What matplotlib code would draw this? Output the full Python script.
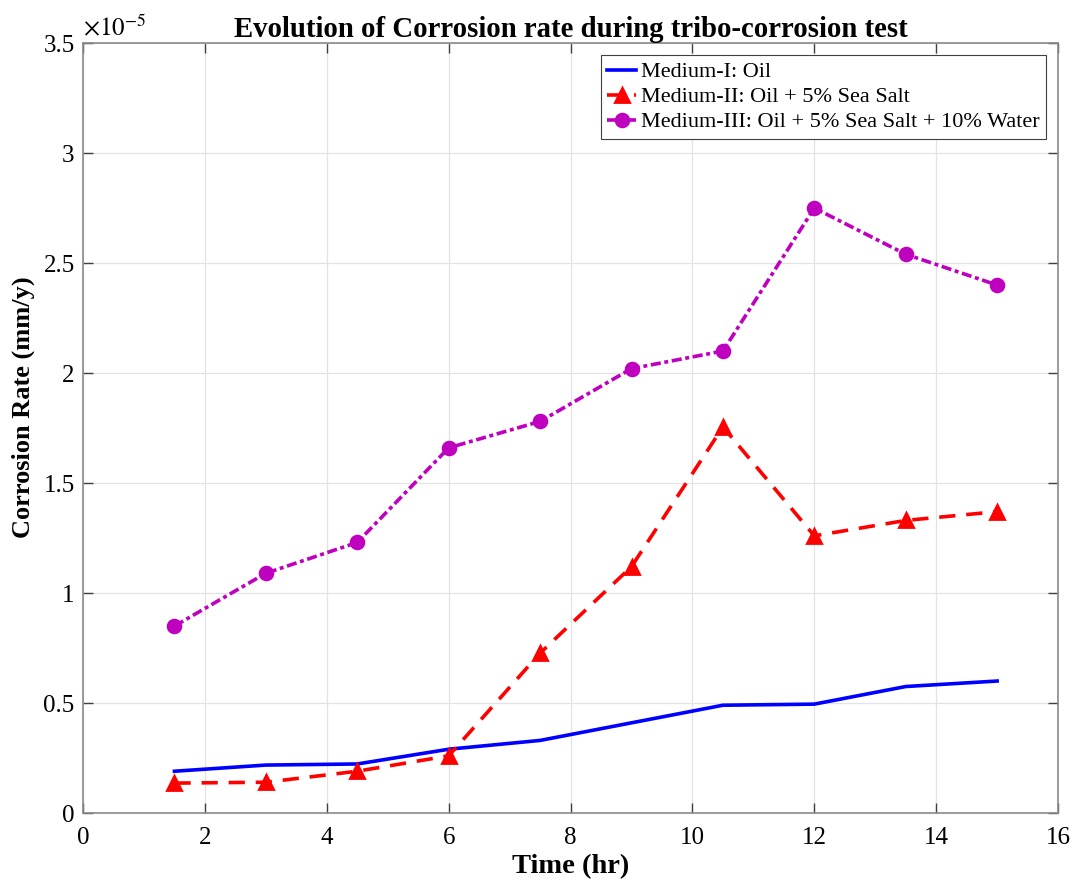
import matplotlib
matplotlib.use("Agg")
import matplotlib.pyplot as plt

# corrosion rate values in units of 1e-5 mm/y
time_hr = [1.5, 3, 4.5, 6, 7.5, 9, 10.5, 12, 13.5, 15]
oil = [0.19, 0.218, 0.223, 0.29, 0.33, 0.41, 0.49, 0.495, 0.575, 0.60]
oil_salt = [0.136, 0.14, 0.19, 0.26, 0.727, 1.12, 1.755, 1.26, 1.33, 1.37]
oil_salt_water = [0.85, 1.09, 1.23, 1.66, 1.78, 2.02, 2.10, 2.75, 2.54, 2.40]

labels = ["Medium-I: Oil",
          "Medium-II: Oil + 5% Sea Salt",
          "Medium-III: Oil + 5% Sea Salt + 10% Water"]

plt.rcParams["font.family"] = ["Liberation Serif", "DejaVu Serif"]
plt.rcParams["mathtext.fontset"] = "stix"

fig = plt.figure(figsize=(10.73, 8.82), dpi=100)
ax = fig.add_axes([0.0774, 0.0782, 0.9087, 0.873])

ax.plot(time_hr, oil, "-", color="#0000ff", lw=2.6, label=labels[0])
ax.plot(time_hr, oil_salt, "--", color="#ff0000", lw=2.6, dashes=(4.5, 3),
        marker="^", ms=10, mec="#ff0000", mew=2, label=labels[1])
ax.plot(time_hr, oil_salt_water, "-.", color="#bf00bf", lw=2.6, dashes=(2.8, 1.0, 1.1, 1.0),
        marker="o", ms=9, mec="#bf00bf", mew=2.2, label=labels[2])

ax.set_xlim(0, 16)
ax.set_ylim(0, 3.5)
ax.set_xticks(range(0, 17, 2))
ax.set_yticks([0, 0.5, 1, 1.5, 2, 2.5, 3, 3.5])
ax.set_yticklabels(["0", "0.5", "1", "1.5", "2", "2.5", "3", "3.5"])
ax.grid(True, color="#e3e3e3", lw=0.9)
ax.set_axisbelow(True)
ax.tick_params(direction="in", top=True, right=True, labelsize=18,
               length=7, width=1, color="#404040")
ax.tick_params(axis="y", pad=6)
ax.tick_params(axis="x", pad=10)
for s in ax.spines.values():
    s.set_color("#8a8a8a")
    s.set_linewidth(1.2)

ax.text(0.0, 1.003, r"$\times10^{-5}$", transform=ax.transAxes, fontsize=18,
        ha="left", va="bottom")

ax.set_title("Evolution of Corrosion rate during tribo-corrosion test",
             fontsize=20.7, fontweight="bold", pad=4.5)
ax.set_xlabel("Time (hr)", fontsize=20.5, fontweight="bold", labelpad=4)
ax.set_ylabel("Corrosion Rate (mm/y)", fontsize=19, fontweight="bold")
ax.yaxis.set_label_coords(-0.049, 0.527)

leg = ax.legend(loc="upper right", fontsize=16, frameon=True, fancybox=False,
                handlelength=1.3, handletextpad=0.2, borderpad=0.3,
                labelspacing=0.2, borderaxespad=0.55)
leg.get_frame().set_edgecolor("#404040")
leg.get_frame().set_linewidth(0.8)
leg.get_frame().set_alpha(1)

fig.savefig("out.png", dpi=100)
